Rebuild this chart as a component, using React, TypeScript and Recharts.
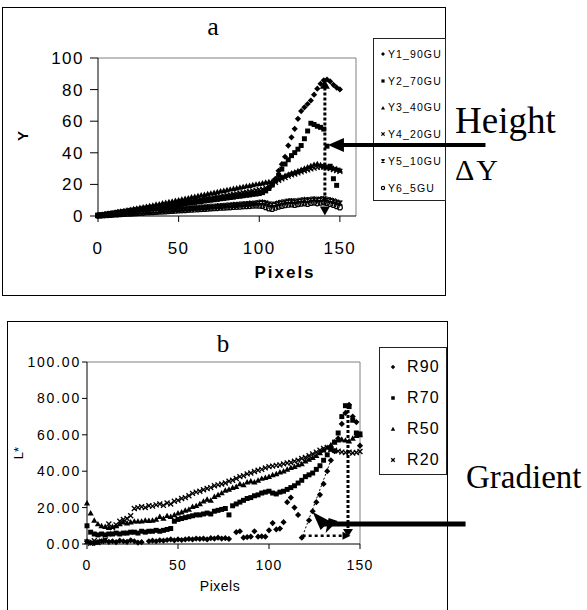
import { ScatterChart, Scatter, XAxis, YAxis, ReferenceLine } from 'recharts';

// pixel position along the profile (shared by both panels)
const pixels = [
  0, 2, 4, 6, 8, 10, 12, 14, 16, 18,
  20, 22, 24, 26, 28, 30, 32, 34, 36, 38,
  40, 42, 44, 46, 48, 50, 52, 54, 56, 58,
  60, 62, 64, 66, 68, 70, 72, 74, 76, 78,
  80, 82, 84, 86, 88, 90, 92, 94, 96, 98,
  100, 102, 104, 106, 108, 110, 112, 114, 116, 118,
  120, 122, 124, 126, 128, 130, 132, 134, 136, 138,
  140, 142, 144, 146, 148, 150,
];

// panel a: Y values
const y1_90GU = [
  0.3, 0.5, 0.9, 1.1, 1.5, 1.8, 2.0, 2.4, 2.7, 2.9,
  3.3, 3.5, 3.9, 4.2, 4.4, 4.8, 5.1, 5.3, 5.7, 6.0,
  6.2, 6.6, 6.9, 7.1, 7.5, 7.8, 8.0, 8.4, 8.7, 8.9,
  9.3, 9.6, 9.8, 10.2, 10.5, 10.7, 11.1, 11.4, 11.6, 12.0,
  12.3, 12.5, 12.9, 13.2, 13.4, 13.8, 14.1, 14.3, 14.7, 15.0,
  15.2, 15.6, 16.4, 17.8, 19.9, 23.5, 28.6, 32.8, 37.5, 44.6,
  49.8, 55.2, 61.5, 66.4, 68.8, 70.9, 73.1, 76.8, 80.6, 83.7,
  85.9, 86.4, 85.2, 83.0, 81.3, 80.1,
];
const y2_70GU = [
  0.4, 0.6, 0.8, 1.2, 1.4, 1.6, 2.0, 2.2, 2.5, 2.8,
  3.0, 3.3, 3.6, 3.9, 4.1, 4.4, 4.7, 4.9, 5.3, 5.5,
  5.8, 6.1, 6.3, 6.7, 6.9, 7.2, 7.5, 7.7, 8.1, 8.3,
  8.6, 8.9, 9.1, 9.5, 9.7, 10.0, 10.3, 10.5, 10.9, 11.1,
  11.4, 11.7, 11.9, 12.3, 12.5, 12.8, 13.1, 13.3, 13.7, 13.9,
  14.2, 14.8, 15.9, 17.4, 19.6, 22.3, 25.8, 29.7, 32.9, 35.6,
  38.2, 40.1, 42.3, 44.6, 48.9, 53.8, 58.7, 57.9, 56.8, 56.1,
  55.0, 44.2, 31.5, 23.6, 19.4, null,
];
const y3_40GU = [
  0.5, 0.8, 1.2, 1.5, 1.9, 2.2, 2.6, 2.9, 3.3, 3.7,
  4.0, 4.5, 4.8, 5.3, 5.6, 6.0, 6.5, 6.8, 7.3, 7.6,
  8.1, 8.5, 8.9, 9.3, 9.8, 10.1, 10.6, 11.0, 11.4, 11.9,
  12.3, 12.7, 13.2, 13.5, 14.0, 14.4, 14.8, 15.3, 15.7, 16.0,
  16.5, 16.9, 17.3, 17.6, 18.1, 18.5, 18.9, 19.2, 19.7, 20.1,
  20.4, 20.8, 21.3, 21.6, 22.0, 22.6, 23.5, 24.6, 25.5, 26.3,
  27.2, 27.8, 28.5, 29.3, 30.1, 31.0, 31.8, 32.6, 33.0, 32.4,
  31.6, 31.0, 30.6, 30.2, 29.8, 29.0,
];
const y4_20GU = [
  0.4, 0.7, 1.0, 1.3, 1.6, 1.9, 2.2, 2.5, 2.8, 3.1,
  3.4, 3.7, 4.0, 4.3, 4.6, 4.9, 5.2, 5.5, 5.8, 6.1,
  6.4, 6.7, 7.0, 7.3, 7.6, 7.9, 8.3, 8.6, 8.9, 9.2,
  9.6, 9.9, 10.2, 10.6, 10.9, 11.2, 11.6, 11.9, 12.3, 12.6,
  13.0, 13.3, 13.7, 14.0, 14.4, 14.7, 15.1, 15.4, 15.8, 16.2,
  16.6, 17.0, 17.8, 18.9, 20.2, 21.4, 22.6, 23.5, 24.4, 25.2,
  26.0, 26.6, 27.3, 27.9, 28.6, 29.2, 29.8, 30.3, 30.8, 31.2,
  31.0, 30.5, 30.0, 29.4, 28.8, 28.3,
];
const y5_10GU = [
  0.3, 0.4, 0.6, 0.7, 0.9, 1.1, 1.2, 1.4, 1.5, 1.7,
  1.9, 2.0, 2.2, 2.3, 2.5, 2.7, 2.8, 3.0, 3.1, 3.3,
  3.5, 3.6, 3.8, 3.9, 4.1, 4.3, 4.4, 4.6, 4.7, 4.9,
  5.1, 5.2, 5.4, 5.5, 5.7, 5.9, 6.0, 6.2, 6.3, 6.5,
  6.7, 6.8, 7.0, 7.1, 7.3, 7.5, 7.6, 7.8, 7.9, 8.1,
  8.5, 8.6, 8.2, 7.6, 7.2, 7.5, 8.1, 8.6, 8.9, 9.3,
  9.5, 9.2, 9.6, 9.9, 10.2, 10.0, 10.4, 10.7, 10.3, 10.6,
  10.9, 10.4, 10.0, 9.5, 8.8, 8.2,
];
const y6_5GU = [
  0.2, 0.3, 0.5, 0.6, 0.7, 0.9, 1.0, 1.1, 1.3, 1.4,
  1.5, 1.6, 1.8, 1.9, 2.0, 2.2, 2.3, 2.4, 2.6, 2.7,
  2.8, 2.9, 3.1, 3.2, 3.3, 3.5, 3.6, 3.7, 3.9, 4.0,
  4.1, 4.2, 4.4, 4.5, 4.6, 4.8, 4.9, 5.0, 5.2, 5.3,
  5.4, 5.5, 5.7, 5.8, 5.9, 6.1, 6.2, 6.3, 6.5, 6.6,
  6.5, 6.4, 5.6, 4.8, 4.5, 5.2, 5.9, 6.4, 6.8, 7.1,
  7.3, 7.0, 7.5, 7.8, 8.0, 7.6, 8.2, 8.5, 8.0, 8.4,
  8.7, 8.2, 7.6, 7.0, 6.2, 5.4,
];

// panel b: L* values
const r90 = [
  1.5, 0.8, 0.5, 1.0, 1.5, 1.8, 1.2, 1.5, 1.0, 1.8,
  1.5, 1.2, 2.0, 1.5, 0.8, 1.0, null, 1.5, 1.8, 1.5,
  2.0, 1.8, 2.2, 2.5, 2.0, 2.5, 2.2, 2.5, 2.8, 2.5,
  3.0, 2.8, 3.0, 2.5, 3.2, 3.0, 3.5, 3.0, 3.2, 2.8,
  null, 6.5, 7.0, 3.5, 3.8, 4.0, 7.0, 4.0, 4.2, 4.0,
  7.5, 11.5, 8.0, 8.5, 12.0, 23.0, 25.5, 20.0, 16.0, 3.5,
  null, 13.0, 18.0, 23.0, 27.0, 33.0, 40.0, 46.0, 51.0, 58.0,
  66.0, 72.0, 76.5, 70.0, 67.0, 54.0,
];
const r70 = [
  10.0, 6.5, 5.5, 5.0, 5.5, 5.0, 5.5, 5.5, 6.0, 5.5,
  6.0, 6.0, 6.5, 6.5, 6.0, 7.0, 6.5, 7.0, 7.0, 7.5,
  7.0, 7.5, 8.0, 8.5, 12.5, 13.5, 14.0, 14.5, 15.0, 15.5,
  16.0, 16.0, 16.5, 17.0, 16.5, 18.0, 18.5, 19.0, 19.5, 16.0,
  21.0, 22.0, 23.0, 24.0, 25.0, 25.5, 26.5, 27.0, 28.0, 28.5,
  29.0, 28.0, 27.5, 28.5, 29.0, 30.0, 31.0, 32.0, 33.5, 35.0,
  37.0, 38.0, 39.0, 41.0, 43.0, 46.0, 49.0, 52.0, 56.0, 61.0,
  70.0, 76.0, 75.5, 68.0, 61.0, 60.5,
];
const r50 = [
  22.5, 17.0, 13.0, 11.0, 10.0, 9.5, 9.0, 9.5, 10.0, 11.0,
  12.0, 11.5, 12.0, 12.5, 12.5, 12.5, 13.0, 12.8, 13.0, 13.5,
  15.0, 14.0, 15.5, 15.0, 16.0, 17.0, 17.5, 18.5, 19.0, 20.5,
  21.0, 22.0, 23.5, 24.5, 24.0, 26.0, 27.0, 28.0, 29.5, 30.0,
  31.0, 31.5, 33.0, 32.5, 34.0, 34.5, 34.0, 35.0, 36.0, 36.5,
  37.0, 38.0, 38.5, 39.5, 40.0, 41.0, 42.0, 42.5, 43.5, 44.0,
  45.5, 46.5, 47.5, 48.5, 50.0, 51.5, 53.0, 54.5, 56.0, 57.0,
  57.5, 57.0, 56.5, 58.0, 59.5, 60.0,
];
const r20 = [
  1.2, 0.4, 1.8, 0.8, 1.5, 2.2, 11.0, 9.0, 10.5, 12.5,
  13.5, 14.0, 15.5, 19.5, 20.0, 20.5, 20.0, 21.0, 20.8, 21.5,
  22.0, 21.2, 22.5, 22.0, 23.5, 24.0, 25.0, 25.5, 26.5, 27.8,
  28.5, 29.0, 29.8, 30.5, 31.0, 32.0, 32.5, 33.0, 33.5, 34.5,
  35.0, 36.0, 37.0, 37.5, 38.5, 39.0, 39.8, 40.5, 41.0, 41.8,
  42.5, 42.8, 43.2, 43.4, 44.0, 44.5, 44.8, 45.5, 46.0, 47.0,
  47.5, 48.5, 49.5, 50.5, 51.5, 52.5, 53.0, 52.0, 51.5, 51.0,
  50.5, 50.2, 50.5, 50.0, 50.3, 50.8,
];

const ticksA = [0, 50, 100, 150];
const yTicks = [0, 20, 40, 60, 80, 100];

type Kind = 'diamond' | 'square' | 'triangle' | 'cross' | 'star' | 'circle';

const seriesA: { name: string; values: (number | null)[]; kind: Kind }[] = [
  { name: 'Y1_90GU', values: y1_90GU, kind: 'diamond' },
  { name: 'Y2_70GU', values: y2_70GU, kind: 'square' },
  { name: 'Y3_40GU', values: y3_40GU, kind: 'triangle' },
  { name: 'Y4_20GU', values: y4_20GU, kind: 'cross' },
  { name: 'Y5_10GU', values: y5_10GU, kind: 'star' },
  { name: 'Y6_5GU', values: y6_5GU, kind: 'circle' },
];

const seriesB: { name: string; values: (number | null)[]; kind: Kind }[] = [
  { name: 'R90', values: r90, kind: 'diamond' },
  { name: 'R70', values: r70, kind: 'square' },
  { name: 'R50', values: r50, kind: 'triangle' },
  { name: 'R20', values: r20, kind: 'cross' },
];

const toPoints = (vals: (number | null)[]) =>
  pixels.flatMap((x, i) => (vals[i] == null ? [] : [{ x, y: vals[i] }]));

const ARIAL = 'Arial, "Liberation Sans", sans-serif';
const TIMES = '"Times New Roman", "Liberation Serif", serif';

function Marker({ kind, cx, cy, s, fillCircle = '#fff' }: { kind: Kind; cx: number; cy: number; s: number; fillCircle?: string }) {
  if (cx == null || cy == null || isNaN(cx) || isNaN(cy)) return null;
  const k = s * 0.8;
  switch (kind) {
    case 'diamond':
      return <polygon points={`${cx},${cy - s} ${cx + s},${cy} ${cx},${cy + s} ${cx - s},${cy}`} fill="#000" />;
    case 'square':
      return <rect x={cx - k} y={cy - k} width={k * 2} height={k * 2} fill="#000" />;
    case 'triangle':
      return <polygon points={`${cx},${cy - s} ${cx + s},${cy + s * 0.75} ${cx - s},${cy + s * 0.75}`} fill="#000" />;
    case 'cross':
      return (
        <path
          d={`M${cx - k},${cy - k}L${cx + k},${cy + k}M${cx + k},${cy - k}L${cx - k},${cy + k}`}
          stroke="#000"
          strokeWidth={1.3}
        />
      );
    case 'star':
      return (
        <path
          d={`M${cx - k},${cy - k}L${cx + k},${cy + k}M${cx + k},${cy - k}L${cx - k},${cy + k}M${cx},${cy - s}L${cx},${cy + s}`}
          stroke="#000"
          strokeWidth={1.3}
        />
      );
    default:
      return <circle cx={cx} cy={cy} r={k} fill={fillCircle} stroke="#000" strokeWidth={1.2} />;
  }
}

// vertical dotted line with arrow heads on both ends (panel a "height")
const heightLine = (p: any) => (
  <g>
    <line x1={p.x1} y1={p.y1} x2={p.x2} y2={p.y2} stroke="#000" strokeWidth={3} strokeDasharray="3 2" />
    <polygon points={`${p.x2},${p.y2 - 5} ${p.x2 - 5},${p.y2 + 4} ${p.x2 + 5},${p.y2 + 4}`} fill="#000" />
    <polygon points={`${p.x1},${p.y1 + 5} ${p.x1 - 5},${p.y1 - 4} ${p.x1 + 5},${p.y1 - 4}`} fill="#000" />
  </g>
);

// thick arrow pointing left, head at the second point
const leftArrow = (p: any) => (
  <g>
    <line x1={p.x1} y1={p.y1} x2={p.x2 + 12} y2={p.y2} stroke="#000" strokeWidth={4} />
    <polygon points={`${p.x2},${p.y2} ${p.x2 + 16},${p.y2 - 7} ${p.x2 + 16},${p.y2 + 7}`} fill="#000" />
  </g>
);

const dottedDown = (p: any) => (
  <g>
    <line x1={p.x1} y1={p.y1} x2={p.x2} y2={p.y2} stroke="#000" strokeWidth={3} strokeDasharray="3 2" />
    <polygon points={`${p.x1},${p.y1 + 4} ${p.x1 - 5},${p.y1 - 4} ${p.x1 + 5},${p.y1 - 4}`} fill="#000" />
  </g>
);

const dottedRight = (p: any) => (
  <g>
    <line x1={p.x1} y1={p.y1} x2={p.x2} y2={p.y2} stroke="#000" strokeWidth={2.5} strokeDasharray="3 3" />
    <polygon points={`${p.x2 + 6},${p.y2} ${p.x2 - 2},${p.y2 - 4} ${p.x2 - 2},${p.y2 + 4}`} fill="#000" />
  </g>
);

const thinDashed = (p: any) => (
  <line x1={p.x1} y1={p.y1} x2={p.x2} y2={p.y2} stroke="#000" strokeWidth={1} strokeDasharray="2 2" />
);

// "Gradient" arrow with a double head aimed at the slope
const gradientArrow = (p: any) => (
  <g>
    <line x1={p.x1} y1={p.y1} x2={p.x2} y2={p.y2} stroke="#000" strokeWidth={5} />
    <polygon points={`${p.x2 - 11},${p.y2 - 12} ${p.x2 + 6},${p.y2 - 3} ${p.x2 - 3},${p.y2 + 6}`} fill="#000" />
    <polygon points={`${p.x2 + 2},${p.y2 + 9} ${p.x2 + 14},${p.y2 - 3} ${p.x2 + 5},${p.y2 - 6}`} fill="#000" />
  </g>
);

function LegendBox({
  items, left, top, width, height, firstY, rowH, markerX, textX, fontSize, spacing, markerSize,
}: {
  items: { name: string; kind: Kind }[];
  left: number; top: number; width: number; height: number;
  firstY: number; rowH: number; markerX: number; textX: number;
  fontSize: number; spacing: number; markerSize: number;
}) {
  return (
    <div
      style={{
        position: 'absolute', left, top, width, height, boxSizing: 'border-box',
        border: '1px solid #222', background: '#fff',
      }}
    >
      {items.map((it, i) => {
        const cy = firstY + i * rowH;
        return (
          <div key={it.name}>
            <svg width={10} height={10} style={{ position: 'absolute', left: markerX - 5, top: cy - 5 }}>
              <Marker kind={it.kind} cx={5} cy={5} s={markerSize} />
            </svg>
            <span
              style={{
                position: 'absolute', left: textX, top: cy - fontSize * 0.6, fontSize,
                lineHeight: `${fontSize * 1.2}px`, fontFamily: ARIAL, letterSpacing: spacing,
                whiteSpace: 'nowrap', color: '#000',
              }}
            >
              {it.name}
            </span>
          </div>
        );
      })}
    </div>
  );
}

export default function App() {
  return (
    <div
      style={{
        position: 'absolute', left: 0, top: 0, width: 587, height: 610,
        overflow: 'hidden', background: '#fff',
      }}
    >
      {/* frames */}
      <div style={{ position: 'absolute', left: 2, top: 7, width: 444, height: 289, boxSizing: 'border-box', border: '1px solid #000' }} />
      <div style={{ position: 'absolute', left: 7, top: 321, width: 441, height: 310, boxSizing: 'border-box', border: '1px solid #000' }} />

      <LegendBox
        items={seriesA}
        left={373} top={38} width={73} height={163}
        firstY={15} rowH={26.8} markerX={9} textX={14}
        fontSize={10.5} spacing={1.1} markerSize={2}
      />
      <LegendBox
        items={seriesB}
        left={379} top={347} width={68} height={128}
        firstY={19} rowH={31} markerX={13} textX={27}
        fontSize={16} spacing={1.2} markerSize={2.2}
      />

      {/* panel a */}
      <div style={{ position: 'absolute', left: 0, top: 0 }}>
        <ScatterChart width={587} height={300} margin={{ top: 58, right: 231, bottom: 14, left: 8 }}>
          <XAxis
            type="number" dataKey="x" domain={[0, 160]} ticks={ticksA} height={70}
            tickSize={6} tickMargin={20} axisLine={{ stroke: '#000' }} tickLine={{ stroke: '#000' }}
            tick={{ fill: '#000', fontSize: 17, fontFamily: ARIAL, letterSpacing: 1.5 }}
          />
          <YAxis
            type="number" dataKey="y" domain={[0, 100]} ticks={yTicks} width={90}
            tickSize={8} tickMargin={6} axisLine={{ stroke: '#000' }} tickLine={{ stroke: '#000' }}
            tick={{ fill: '#000', fontSize: 17, fontFamily: ARIAL, letterSpacing: 1.5 }}
          />
          <ReferenceLine y={100} stroke="#808080" />
          <ReferenceLine x={160} stroke="#808080" />
          {seriesA.map((s) => (
            <Scatter
              key={s.name}
              name={s.name}
              data={toPoints(s.values)}
              isAnimationActive={false}
              shape={(p: any) => <Marker kind={s.kind} cx={p.cx} cy={p.cy} s={3.1} fillCircle="none" />}
            />
          ))}
          <ReferenceLine segment={[{ x: 140.7, y: 3.5 }, { x: 140.7, y: 83 }]} ifOverflow="visible" shape={heightLine} />
          <ReferenceLine segment={[{ x: 240.3, y: 45 }, { x: 142.6, y: 45 }]} ifOverflow="visible" shape={leftArrow} />
        </ScatterChart>
      </div>

      {/* panel b */}
      <div style={{ position: 'absolute', left: 0, top: 300 }}>
        <ScatterChart width={587} height={310} margin={{ top: 62, right: 227, bottom: 26, left: 8 }}>
          <XAxis
            type="number" dataKey="x" domain={[0, 150]} ticks={ticksA} height={40}
            tickSize={5} tickMargin={11} axisLine={{ stroke: '#000' }} tickLine={{ stroke: '#000' }}
            tick={{ fill: '#000', fontSize: 14, fontFamily: ARIAL, letterSpacing: 1.2 }}
          />
          <YAxis
            type="number" dataKey="y" domain={[0, 100]} ticks={yTicks} width={79}
            tickSize={5} tickMargin={1} axisLine={{ stroke: '#000' }} tickLine={{ stroke: '#000' }}
            tickFormatter={(v: number) => v.toFixed(2)}
            tick={{ fill: '#000', fontSize: 14, fontFamily: ARIAL, letterSpacing: 1.8 }}
          />
          <ReferenceLine y={100} stroke="#808080" />
          <ReferenceLine x={150} stroke="#808080" />
          {seriesB.map((s) => (
            <Scatter
              key={s.name}
              name={s.name}
              data={toPoints(s.values)}
              isAnimationActive={false}
              shape={(p: any) => <Marker kind={s.kind} cx={p.cx} cy={p.cy} s={3.1} />}
            />
          ))}
          <ReferenceLine segment={[{ x: 118.5, y: 4.5 }, { x: 134, y: 46 }]} ifOverflow="visible" shape={thinDashed} />
          <ReferenceLine segment={[{ x: 143.4, y: 6 }, { x: 143.4, y: 75 }]} ifOverflow="visible" shape={dottedDown} />
          <ReferenceLine segment={[{ x: 118.5, y: 4.5 }, { x: 141.5, y: 4.5 }]} ifOverflow="visible" shape={dottedRight} />
          <ReferenceLine segment={[{ x: 208, y: 11 }, { x: 130, y: 11 }]} ifOverflow="visible" shape={gradientArrow} />
        </ScatterChart>
      </div>

      {/* titles and annotation text */}
      <svg width={587} height={610} style={{ position: 'absolute', left: 0, top: 0, pointerEvents: 'none' }}>
        <text x={213} y={35} textAnchor="middle" fontFamily={TIMES} fontSize={26}>a</text>
        <text x={28} y={136} textAnchor="middle" fontFamily={ARIAL} fontSize={15} fontWeight="bold" transform="rotate(-90 28 136)">Y</text>
        <text x={285} y={278} textAnchor="middle" fontFamily={ARIAL} fontSize={17} fontWeight="bold" letterSpacing={2}>Pixels</text>
        <text x={455} y={133} fontFamily={TIMES} fontSize={37}>Height</text>
        <text x={455} y={180} fontFamily={TIMES} fontSize={30} letterSpacing={2}>ΔY</text>

        <text x={223} y={352} textAnchor="middle" fontFamily={TIMES} fontSize={25}>b</text>
        <text x={23} y={453} textAnchor="middle" fontFamily={ARIAL} fontSize={13} transform="rotate(-90 23 453)">L*</text>
        <text x={220} y={591} textAnchor="middle" fontFamily={ARIAL} fontSize={14} letterSpacing={0.5}>Pixels</text>
        <text x={466} y={488} fontFamily={TIMES} fontSize={33}>Gradient</text>
      </svg>
    </div>
  );
}
